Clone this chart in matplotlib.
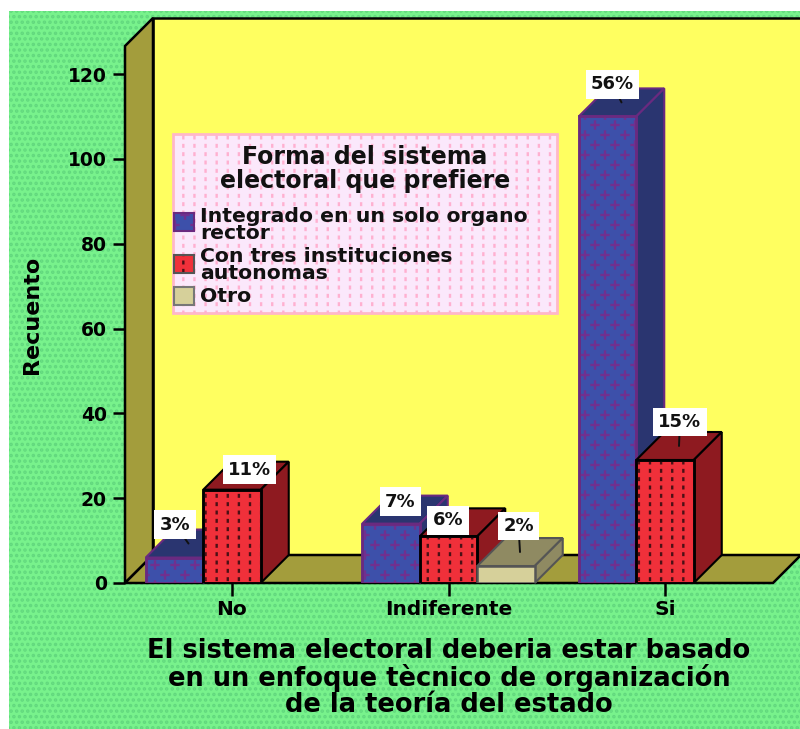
import matplotlib
matplotlib.use('Agg')
import matplotlib.pyplot as plt
import matplotlib.hatch as mhatch
from matplotlib.path import Path
from matplotlib.patches import Rectangle

W, H = 800, 729

categories = ['No', 'Indiferente', 'Si']
integrado = [6, 14, 110]
con_tres = [22, 11, 29]
otro = [0, 4, 0]
pct_integrado = ['3%', '7%', '56%']
pct_con_tres = ['11%', '6%', '15%']
pct_otro = ['', '2%', '']
y_ticks = [0, 20, 40, 60, 80, 100, 120]

# offsets of the label boxes from the centre of each bar's top face, pixels
off_integrado = [(-13.5, 19), (-4.5, 8), (-9, 18)]
off_con_tres = [(3.5, 6), (-14.5, 2), (1, 24)]
off_otro = [(0, 0), (-1.5, 26), (0, 0)]

BLUE, BLUE_D, BLUE_E, BLUE_H = '#3d50aa', '#2a3570', '#6a2a80', '#70308f'
RED, RED_D, RED_H = '#f0303a', '#8e1a20', '#4a1015'
TAN, TAN_D = '#d6d09a', '#8f8a62'
OLIVE = '#a39d3c'
YELLOW = '#ffff60'
GREEN = '#78f28c'
FONT = 'DejaVu Sans'

plt.rcParams['font.family'] = FONT
plt.rcParams['font.weight'] = 'bold'
plt.rcParams['axes.labelweight'] = 'bold'
plt.rcParams['hatch.linewidth'] = 1.7


class PlusHatch(mhatch.HatchPatternBase):
    # staggered plus signs, 'O' in a hatch string
    rows, cols = 10, 5

    def __init__(self, hatch, density):
        self.on = hatch.count('O') > 0
        self.num_vertices = self.rows * self.cols * 4 if self.on else 0

    def set_vertices_and_codes(self, vertices, codes):
        arm = 0.035
        i = 0
        for r in range(self.rows):
            shift = 0.25 if r % 2 == 0 else 0.75
            for c in range(self.cols):
                x = (c + shift) / self.cols
                y = (r + 0.5) / self.rows
                vertices[i:i + 4] = [(x - arm, y), (x + arm, y), (x, y - arm), (x, y + arm)]
                codes[i:i + 4] = [Path.MOVETO, Path.LINETO, Path.MOVETO, Path.LINETO]
                i += 4


class ColumnDotHatch(mhatch.HatchPatternBase):
    # dots lined up in columns, 'o' in a hatch string
    rows, cols = 12, 9

    def __init__(self, hatch, density):
        self.on = hatch.count('o') > 0
        self.num_vertices = self.rows * self.cols * 2 if self.on else 0

    def set_vertices_and_codes(self, vertices, codes):
        size = 0.008
        i = 0
        for r in range(self.rows):
            for c in range(self.cols):
                x = (c + 0.5) / self.cols
                y = (r + 0.5) / self.rows
                vertices[i:i + 2] = [(x, y - size), (x, y + size)]
                codes[i:i + 2] = [Path.MOVETO, Path.LINETO]
                i += 2


mhatch._hatch_types[:] = [t for t in mhatch._hatch_types
                          if t not in (mhatch.SmallCircles, mhatch.LargeCircles)]
mhatch._hatch_types += [PlusHatch, ColumnDotHatch]


def fx(x):
    return x / W


def fy(y):
    return 1 - y / H


fig = plt.figure(figsize=(W / 100, H / 100), dpi=100, facecolor='white')
fig.add_artist(Rectangle((fx(9), 0), 1 - fx(9), fy(11), transform=fig.transFigure,
                         facecolor=GREEN, edgecolor='#62d87e', hatch='...', lw=0, zorder=-5))

# axes box is the front plane of the 3d chart
ax_l, ax_r, ax_t, ax_b = 125, 773, 46, 583
ax = fig.add_axes([fx(ax_l), fy(ax_b), fx(ax_r - ax_l), (ax_b - ax_t) / H])
ax.patch.set_alpha(0)
xs_per_px = 1 / 216.5
ys_per_px = 120 / 509
x0 = (ax_l - 232) * xs_per_px
x1 = (ax_r - 232) * xs_per_px
y1 = (ax_b - ax_t) * ys_per_px
ax.set_xlim(x0, x1)
ax.set_ylim(0, y1)
dx = 28 * xs_per_px
dy = 28 * ys_per_px
bw = 57.5 * xs_per_px

# walls and floor
ax.fill([x0 + dx, x1 + dx, x1 + dx, x0 + dx], [dy, dy, y1 + dy, y1 + dy],
        facecolor=YELLOW, edgecolor='black', lw=1.8, clip_on=False, zorder=1)
ax.fill([x0, x0 + dx, x0 + dx, x0], [0, dy, y1 + dy, y1],
        facecolor=OLIVE, edgecolor='black', lw=1.8, clip_on=False, zorder=1)
ax.fill([x0, x1, x1 + dx, x0 + dx], [0, 0, dy, dy],
        facecolor=OLIVE, edgecolor='black', lw=1.8, clip_on=False, zorder=1)

styles = [
    (integrado, BLUE, BLUE_D, BLUE_E, BLUE_H, 'O', pct_integrado, off_integrado),
    (con_tres, RED, RED_D, 'black', RED_H, 'o', pct_con_tres, off_con_tres),
    (otro, TAN, TAN_D, '#555555', None, None, pct_otro, off_otro),
]

for s, (vals, col, dark, edge, hcol, hatch, pcts, offs) in enumerate(styles):
    z = 3 + s
    for c, v in enumerate(vals):
        if v == 0:
            continue
        left = c + (s - 1.5) * bw
        right = left + bw
        ax.fill([left, right, right + dx, left + dx], [v, v, v + dy, v + dy],
                facecolor=dark, edgecolor=edge, lw=1.5, clip_on=False, zorder=z)
        ax.fill([right, right + dx, right + dx, right], [0, dy, v + dy, v],
                facecolor=dark, edgecolor=edge, lw=1.5, clip_on=False, zorder=z)
        ax.bar(left + bw / 2, v, bw, facecolor=col, edgecolor=edge, lw=1.8, zorder=z + 0.1)
        if hatch:
            ax.bar(left + bw / 2, v, bw, facecolor='none', edgecolor=hcol, hatch=hatch, lw=0, zorder=z + 0.2)
            ax.bar(left + bw / 2, v, bw, facecolor='none', edgecolor=edge, lw=1.8, zorder=z + 0.3)

for s, (vals, col, dark, edge, hcol, hatch, pcts, offs) in enumerate(styles):
    for c, v in enumerate(vals):
        if v == 0:
            continue
        left = c + (s - 1.5) * bw
        ax.annotate(pcts[c], (left + bw / 2 + dx / 2, v + dy / 2), xycoords='data',
                    xytext=(offs[c][0] * 0.72, offs[c][1] * 0.72), textcoords='offset points',
                    ha='center', va='center', fontsize=13, color='#111111', zorder=10,
                    bbox=dict(facecolor='white', edgecolor='none', pad=3.8),
                    arrowprops=dict(arrowstyle='-', color='#111111', lw=1.4, shrinkA=0, shrinkB=0))

ax.set_yticks(y_ticks)
ax.set_xticks(range(len(categories)))
ax.set_xticklabels(categories)
ax.tick_params(axis='x', length=9, width=1.8, labelsize=14.5, pad=3)
ax.tick_params(axis='y', length=9, width=1.8, labelsize=13.5, pad=4)
for sp in ax.spines.values():
    sp.set_visible(False)
ax.set_ylabel('Recuento', fontsize=16, labelpad=19, y=0.5)
ax.set_xlabel('El sistema electoral deberia estar basado\nen un enfoque tècnico de organización\nde la teoría del estado',
              fontsize=18.5, labelpad=14, linespacing=1.0, x=0.5)

# legend panel
fig.add_artist(Rectangle((fx(173), fy(313)), fx(384), 179 / H, transform=fig.transFigure,
                         facecolor='#fbe8fb', edgecolor='#ffb8c8', lw=2, zorder=20))
fig.add_artist(Rectangle((fx(173), fy(313)), fx(384), 179 / H, transform=fig.transFigure,
                         facecolor='none', edgecolor='#ffb0d0', hatch='o', lw=0, zorder=20.1))
fig.text(fx(365), fy(169), 'Forma del sistema\nelectoral que prefiere', ha='center', va='center',
         fontsize=17, linespacing=1.0, color='#111111', zorder=21)
legend_labels = ['Integrado en un solo organo\nrector', 'Con tres instituciones\nautonomas', 'Otro']
legend_cols = [BLUE, RED, TAN]
legend_edges = [BLUE_E, '#555555', '#777777']
legend_hatches = ['O', 'o', None]
legend_hcols = [BLUE_H, RED_H, '#777777']
legend_y = [225, 265, 297]
swatch_y = [222, 264, 296]
for lab, col, e, ha_, hc, ly, sy in zip(legend_labels, legend_cols, legend_edges, legend_hatches,
                                        legend_hcols, legend_y, swatch_y):
    fig.text(fx(200), fy(ly), lab, ha='left', va='center', fontsize=14.7, linespacing=0.9,
             color='#111111', zorder=21)
    fig.add_artist(Rectangle((fx(174), fy(sy + 9)), fx(20), 18 / H, transform=fig.transFigure,
                             facecolor=col, edgecolor=hc, hatch=ha_, lw=0, zorder=21))
    fig.add_artist(Rectangle((fx(174), fy(sy + 9)), fx(20), 18 / H, transform=fig.transFigure,
                             facecolor='none', edgecolor=e, lw=1.5, zorder=21.1))

fig.savefig('out.png', dpi=100, facecolor='white')
